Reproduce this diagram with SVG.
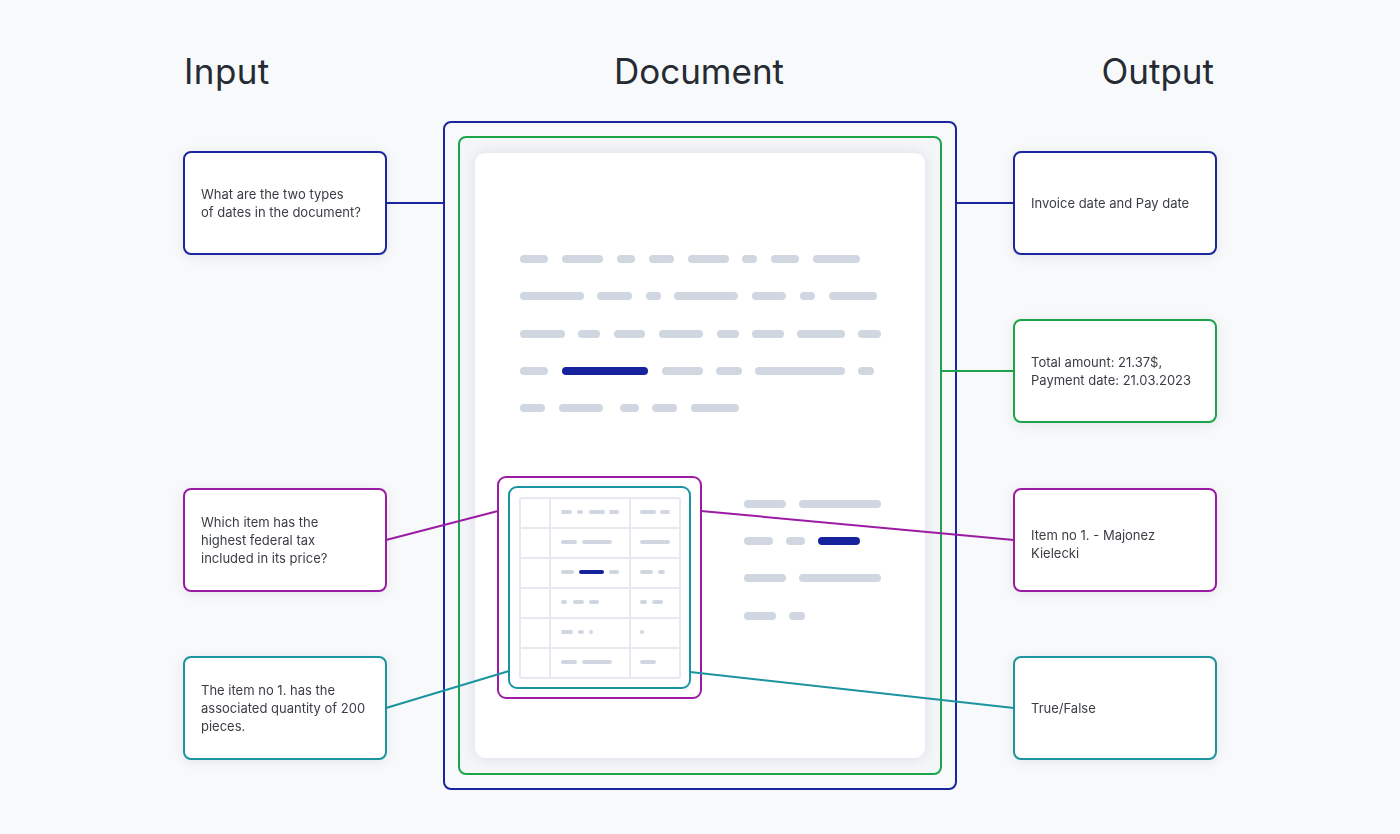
<svg xmlns="http://www.w3.org/2000/svg" width="1400" height="834" viewBox="0 0 1400 834">
  <defs>
    <filter id="soft" x="-20%" y="-20%" width="140%" height="140%">
      <feDropShadow dx="0" dy="2" stdDeviation="6" flood-color="#1c2b4a" flood-opacity="0.08"/>
    </filter>
    <filter id="paperShadow" x="-10%" y="-10%" width="120%" height="120%">
      <feDropShadow dx="0" dy="0" stdDeviation="7" flood-color="#2a3a5a" flood-opacity="0.10"/>
    </filter>
  </defs>
  <style>
    .title { font-family: Inter, "Liberation Sans", sans-serif; font-size: 35px; fill: #262a33; }
    .label { font-family: Inter, "Liberation Sans", sans-serif; font-size: 13px; fill: #3a3d44; }
    .box { fill: #ffffff; stroke-width: 2; }
    .blue { stroke: #1b259e; }
    .green { stroke: #1ea44c; }
    .purple { stroke: #9b1ca3; }
    .teal { stroke: #1a94a0; }
    .conn line { stroke-width: 2; fill: none; }
    .bar { stroke: #d0d7e1; stroke-width: 8; stroke-linecap: round; }
    .bar-hi { stroke: #16239c; stroke-width: 8; stroke-linecap: round; }
    .tbar { stroke: #d0d7e1; stroke-width: 4; stroke-linecap: round; }
    .tbar-hi { stroke: #16239c; stroke-width: 4; stroke-linecap: round; }
    .grid { stroke: #e6eaf0; stroke-width: 2; fill: none; }
  </style>

  <rect width="1400" height="834" fill="#f8f9fb"/>

  <!-- column headings -->
  <text class="title" x="184" y="84" letter-spacing="0.4">Input</text>
  <text class="title" x="699" y="84" text-anchor="middle">Document</text>
  <text class="title" x="1214" y="84" text-anchor="end">Output</text>

  <!-- document -->
  <g id="document">
    <rect class="blue" x="444" y="122" width="512" height="667" rx="7" fill="#f8f9fb" stroke-width="2"/>
    <rect class="green" x="459" y="137" width="482" height="637" rx="7" fill="#f4f6f9" stroke-width="2"/>
    <rect x="475" y="153" width="450" height="605" rx="11" fill="#ffffff" filter="url(#paperShadow)"/>

    <!-- body text lines -->
    <g id="body-lines">
      <line class="bar" x1="524" y1="259" x2="544" y2="259"/>
      <line class="bar" x1="566" y1="259" x2="599" y2="259"/>
      <line class="bar" x1="621" y1="259" x2="631" y2="259"/>
      <line class="bar" x1="653" y1="259" x2="670" y2="259"/>
      <line class="bar" x1="692" y1="259" x2="725" y2="259"/>
      <line class="bar" x1="746" y1="259" x2="753" y2="259"/>
      <line class="bar" x1="775" y1="259" x2="795" y2="259"/>
      <line class="bar" x1="817" y1="259" x2="856" y2="259"/>

      <line class="bar" x1="524" y1="296" x2="580" y2="296"/>
      <line class="bar" x1="601" y1="296" x2="628" y2="296"/>
      <line class="bar" x1="650" y1="296" x2="657" y2="296"/>
      <line class="bar" x1="678" y1="296" x2="734" y2="296"/>
      <line class="bar" x1="756" y1="296" x2="782" y2="296"/>
      <line class="bar" x1="804" y1="296" x2="811" y2="296"/>
      <line class="bar" x1="833" y1="296" x2="873" y2="296"/>

      <line class="bar" x1="524" y1="334" x2="561" y2="334"/>
      <line class="bar" x1="582" y1="334" x2="596" y2="334"/>
      <line class="bar" x1="618" y1="334" x2="641" y2="334"/>
      <line class="bar" x1="663" y1="334" x2="699" y2="334"/>
      <line class="bar" x1="721" y1="334" x2="735" y2="334"/>
      <line class="bar" x1="756" y1="334" x2="780" y2="334"/>
      <line class="bar" x1="801" y1="334" x2="841" y2="334"/>
      <line class="bar" x1="862" y1="334" x2="877" y2="334"/>

      <line class="bar" x1="524" y1="371" x2="544" y2="371"/>
      <line class="bar-hi" x1="566" y1="371" x2="644" y2="371"/>
      <line class="bar" x1="666" y1="371" x2="699" y2="371"/>
      <line class="bar" x1="720" y1="371" x2="738" y2="371"/>
      <line class="bar" x1="759" y1="371" x2="841" y2="371"/>
      <line class="bar" x1="862" y1="371" x2="870" y2="371"/>

      <line class="bar" x1="524" y1="408" x2="541" y2="408"/>
      <line class="bar" x1="563" y1="408" x2="599" y2="408"/>
      <line class="bar" x1="624" y1="408" x2="635" y2="408"/>
      <line class="bar" x1="656" y1="408" x2="673" y2="408"/>
      <line class="bar" x1="695" y1="408" x2="735" y2="408"/>
    </g>

    <!-- side text lines -->
    <g id="side-lines">
      <line class="bar" x1="748" y1="504" x2="782" y2="504"/>
      <line class="bar" x1="803" y1="504" x2="877" y2="504"/>
      <line class="bar" x1="748" y1="541" x2="769" y2="541"/>
      <line class="bar" x1="790" y1="541" x2="801" y2="541"/>
      <line class="bar-hi" x1="822" y1="541" x2="856" y2="541"/>
      <line class="bar" x1="748" y1="578" x2="782" y2="578"/>
      <line class="bar" x1="803" y1="578" x2="877" y2="578"/>
      <line class="bar" x1="748" y1="616" x2="772" y2="616"/>
      <line class="bar" x1="793" y1="616" x2="801" y2="616"/>
    </g>

    <!-- item table -->
    <g id="item-table">
      <rect class="purple" x="498" y="477" width="203" height="221" rx="8" fill="#ffffff" stroke-width="2"/>
      <rect class="teal" x="509" y="487" width="181" height="201" rx="8" fill="#ffffff" stroke-width="2"/>
      <rect class="grid" x="520" y="498" width="160" height="180" rx="2"/>
      <line class="grid" x1="550" y1="498" x2="550" y2="678"/>
      <line class="grid" x1="630" y1="498" x2="630" y2="678"/>
      <line class="grid" x1="520" y1="528" x2="680" y2="528"/>
      <line class="grid" x1="520" y1="558" x2="680" y2="558"/>
      <line class="grid" x1="520" y1="588" x2="680" y2="588"/>
      <line class="grid" x1="520" y1="618" x2="680" y2="618"/>
      <line class="grid" x1="520" y1="648" x2="680" y2="648"/>

      <line class="tbar" x1="563" y1="512" x2="570" y2="512"/>
      <line class="tbar" x1="579" y1="512" x2="581" y2="512"/>
      <line class="tbar" x1="591" y1="512" x2="603" y2="512"/>
      <line class="tbar" x1="611" y1="512" x2="617" y2="512"/>
      <line class="tbar" x1="642" y1="512" x2="654" y2="512"/>
      <line class="tbar" x1="662" y1="512" x2="668" y2="512"/>

      <line class="tbar" x1="563" y1="542" x2="575" y2="542"/>
      <line class="tbar" x1="584" y1="542" x2="610" y2="542"/>
      <line class="tbar" x1="642" y1="542" x2="668" y2="542"/>

      <line class="tbar" x1="563" y1="572" x2="572" y2="572"/>
      <line class="tbar-hi" x1="581" y1="572" x2="602" y2="572"/>
      <line class="tbar" x1="611" y1="572" x2="617" y2="572"/>
      <line class="tbar" x1="642" y1="572" x2="651" y2="572"/>
      <line class="tbar" x1="660" y1="572" x2="663" y2="572"/>

      <line class="tbar" x1="563" y1="602" x2="565" y2="602"/>
      <line class="tbar" x1="575" y1="602" x2="582" y2="602"/>
      <line class="tbar" x1="591" y1="602" x2="597" y2="602"/>
      <line class="tbar" x1="642" y1="602" x2="645" y2="602"/>
      <line class="tbar" x1="654" y1="602" x2="661" y2="602"/>

      <line class="tbar" x1="563" y1="632" x2="571" y2="632"/>
      <line class="tbar" x1="580" y1="632" x2="582" y2="632"/>
      <line class="tbar" x1="591" y1="632" x2="591" y2="632"/>
      <line class="tbar" x1="642" y1="632" x2="642" y2="632"/>

      <line class="tbar" x1="563" y1="662" x2="575" y2="662"/>
      <line class="tbar" x1="584" y1="662" x2="610" y2="662"/>
      <line class="tbar" x1="642" y1="662" x2="654" y2="662"/>
    </g>
  </g>

  <!-- connectors -->
  <g id="connectors" class="conn">
    <line class="blue" x1="386" y1="203" x2="444" y2="203"/>
    <line class="blue" x1="956" y1="203" x2="1014" y2="203"/>
    <line class="green" x1="941" y1="371" x2="1014" y2="371"/>
    <line class="purple" x1="386" y1="540" x2="498" y2="511"/>
    <line class="purple" x1="701" y1="511" x2="1014" y2="540"/>
    <line class="teal" x1="386" y1="708" x2="509" y2="671"/>
    <line class="teal" x1="690" y1="672" x2="1014" y2="708"/>
  </g>

  <!-- input nodes -->
  <g id="in-dates" filter="url(#soft)">
    <rect class="box blue" x="184" y="152" width="202" height="102" rx="7"/>
    <text class="label" x="201" y="199">What are the two types</text>
    <text class="label" x="201" y="217">of dates in the document?</text>
  </g>
  <g id="in-tax" filter="url(#soft)">
    <rect class="box purple" x="184" y="489" width="202" height="102" rx="7"/>
    <text class="label" x="201" y="527">Which item has the</text>
    <text class="label" x="201" y="545">highest federal tax</text>
    <text class="label" x="201" y="563">included in its price?</text>
  </g>
  <g id="in-quantity" filter="url(#soft)">
    <rect class="box teal" x="184" y="657" width="202" height="102" rx="7"/>
    <text class="label" x="201" y="695">The item no 1. has the</text>
    <text class="label" x="201" y="713">associated quantity of 200</text>
    <text class="label" x="201" y="731">pieces.</text>
  </g>

  <!-- output nodes -->
  <g id="out-dates" filter="url(#soft)">
    <rect class="box blue" x="1014" y="152" width="202" height="102" rx="7"/>
    <text class="label" x="1031" y="208">Invoice date and Pay date</text>
  </g>
  <g id="out-total" filter="url(#soft)">
    <rect class="box green" x="1014" y="320" width="202" height="102" rx="7"/>
    <text class="label" x="1031" y="367">Total amount: 21.37$,</text>
    <text class="label" x="1031" y="385">Payment date: 21.03.2023</text>
  </g>
  <g id="out-item" filter="url(#soft)">
    <rect class="box purple" x="1014" y="489" width="202" height="102" rx="7"/>
    <text class="label" x="1031" y="540">Item no 1. - Majonez</text>
    <text class="label" x="1031" y="558">Kielecki</text>
  </g>
  <g id="out-bool" filter="url(#soft)">
    <rect class="box teal" x="1014" y="657" width="202" height="102" rx="7"/>
    <text class="label" x="1031" y="713">True/False</text>
  </g>
</svg>
